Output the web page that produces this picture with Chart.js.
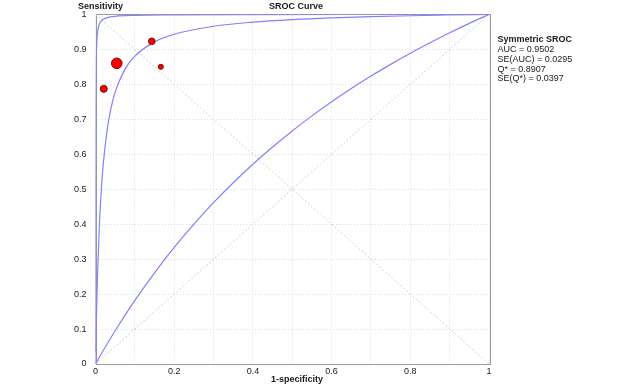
<!DOCTYPE html>
<html>
<head>
<meta charset="utf-8">
<script src="https://cdn.jsdelivr.net/npm/chart.js@4/dist/chart.umd.min.js"></script>
<style>
html,body{margin:0;padding:0;background:#fff;}
canvas{display:block;}
</style>
</head>
<body>
<canvas id="c" width="640" height="384"></canvas>
<script>
// Study points (1-specificity, sensitivity) and study weights (bubble size)
const studyFPR = [0.021, 0.054, 0.143, 0.166];
const studyTPR = [0.787, 0.860, 0.923, 0.850];
const studyWeight = [3.5, 5.3, 3.3, 2.5];

// Symmetric SROC curve
const srocFPR = [0, 0.002, 0.005, 0.01, 0.015, 0.02, 0.03, 0.04, 0.05, 0.075, 0.1, 0.15, 0.2, 0.3, 0.4, 0.5, 0.6, 0.7, 0.8, 0.9, 1];
const srocTPR = [0, 0.1175, 0.2502, 0.4014, 0.5028, 0.5754, 0.6725, 0.7345, 0.7775, 0.8434, 0.8806, 0.9214, 0.9432, 0.9661, 0.9779, 0.9852, 0.9901, 0.9936, 0.9962, 0.9983, 1];

// Upper bound curve
const upperFPR = [0, 0.0001, 0.0003, 0.0006, 0.001, 0.002, 0.003, 0.005, 0.0075, 0.01, 0.015, 0.02, 0.03, 0.05, 0.1, 0.2, 0.4, 0.7, 1];
const upperTPR = [0.034, 0.2593, 0.5122, 0.6775, 0.7780, 0.8752, 0.9133, 0.9462, 0.9636, 0.9725, 0.9816, 0.9862, 0.9909, 0.9946, 0.9974, 0.9989, 0.9996, 0.9999, 1];

// Lower bound curve
const lowerFPR = [0, 0.02, 0.05, 0.1, 0.15, 0.2, 0.25, 0.3, 0.35, 0.4, 0.45, 0.5, 0.55, 0.6, 0.65, 0.7, 0.75, 0.8, 0.85, 0.9, 0.95, 1];
const lowerTPR = [0, 0.0392, 0.0952, 0.1818, 0.2609, 0.3333, 0.4, 0.4615, 0.5185, 0.5714, 0.6207, 0.6667, 0.7097, 0.75, 0.7879, 0.8235, 0.8571, 0.8889, 0.9189, 0.9474, 0.9744, 1];

// Reference diagonals
const diagX = [0, 1];
const diagUp = [0, 1];
const diagDown = [1, 0];

// Texts
const chartTitle = "SROC Curve";
const yTitle = "Sensitivity";
const xTitle = "1-specificity";
const statsTitle = "Symmetric SROC";
const statsLines = ["AUC = 0.9502", "SE(AUC) = 0.0295", "Q* = 0.8907", "SE(Q*) = 0.0397"];

const zip = (xs, ys) => xs.map((x, i) => ({x: x, y: ys[i]}));
const FONT = '"Liberation Sans", Arial, sans-serif';
const curveColor = '#8080ff';

const decor = {
  id: 'decor',
  beforeDatasetsDraw(chart) {
    const {ctx, chartArea: a} = chart;
    ctx.save();
    ctx.strokeStyle = '#9a9a9a';
    ctx.lineWidth = 1;
    ctx.setLineDash([]);
    ctx.strokeRect(Math.round(a.left) + 0.5, Math.round(a.top) + 0.5, Math.round(a.right - a.left), Math.round(a.bottom - a.top));
    ctx.restore();
  },
  afterDraw(chart) {
    const {ctx, chartArea: a} = chart;
    ctx.save();
    ctx.fillStyle = '#1a1a1a';
    ctx.textBaseline = 'middle';
    ctx.font = 'bold 9px ' + FONT;
    ctx.textAlign = 'center';
    ctx.fillText(chartTitle, 296, 6.5);
    ctx.fillText(xTitle, 297, 379.5);
    ctx.textAlign = 'left';
    ctx.fillText(yTitle, 78, 6.5);
    ctx.fillText(statsTitle, a.right + 8.5, 40);
    ctx.font = '9px ' + FONT;
    statsLines.forEach((t, i) => ctx.fillText(t, a.right + 8.5, 49.7 + i * 9.7));
    ctx.restore();
  }
};

new Chart(document.getElementById('c'), {
  type: 'scatter',
  data: {
    datasets: [
      {
        label: 'Studies',
        data: zip(studyFPR, studyTPR),
        pointRadius: studyWeight,
        pointHoverRadius: studyWeight,
        backgroundColor: '#ff0000',
        borderColor: '#7a0000',
        borderWidth: 1,
        showLine: false
      },
      {
        label: 'SROC',
        data: zip(srocFPR, srocTPR),
        showLine: true, pointRadius: 0, borderColor: curveColor, borderWidth: 1.2,
        cubicInterpolationMode: 'monotone', fill: false
      },
      {
        label: 'Upper',
        data: zip(upperFPR, upperTPR),
        showLine: true, pointRadius: 0, borderColor: curveColor, borderWidth: 1.2,
        cubicInterpolationMode: 'monotone', fill: false
      },
      {
        label: 'Lower',
        data: zip(lowerFPR, lowerTPR),
        showLine: true, pointRadius: 0, borderColor: curveColor, borderWidth: 1.2,
        cubicInterpolationMode: 'monotone', fill: false
      },
      {
        label: 'Diag1',
        data: zip(diagX, diagUp),
        showLine: true, pointRadius: 0, borderColor: '#cfcfcf', borderWidth: 1, borderDash: [2, 2]
      },
      {
        label: 'Diag2',
        data: zip(diagX, diagDown),
        showLine: true, pointRadius: 0, borderColor: '#cfcfcf', borderWidth: 1, borderDash: [2, 2]
      }
    ]
  },
  options: {
    responsive: false,
    animation: false,
    devicePixelRatio: 1,
    layout: {padding: {top: 14, right: 151, left: 0, bottom: 0}},
    plugins: {legend: {display: false}, tooltip: {enabled: false}, title: {display: false}},
    scales: {
      x: {
        type: 'linear', min: 0, max: 1,
        afterFit: s => { s.height = 20; },
        ticks: {
          stepSize: 0.1, padding: 2, color: '#1a1a1a', maxRotation: 0, autoSkip: false,
          font: {family: FONT, size: 9},
          callback: (v, i) => (i % 2 === 0 ? String(Math.round(v * 10) / 10) : '')
        },
        grid: {color: '#dcdcdc', drawTicks: false, lineWidth: 1},
        border: {display: false, dash: [1, 2]}
      },
      y: {
        type: 'linear', min: 0, max: 1,
        afterFit: s => { s.width = 95.5; },
        ticks: {
          stepSize: 0.1, padding: 9, color: '#1a1a1a', autoSkip: false,
          font: {family: FONT, size: 9},
          callback: v => String(Math.round(v * 10) / 10)
        },
        grid: {color: '#dcdcdc', drawTicks: false, lineWidth: 1},
        border: {display: false, dash: [1, 2]}
      }
    }
  },
  plugins: [decor]
});
</script>
</body>
</html>
